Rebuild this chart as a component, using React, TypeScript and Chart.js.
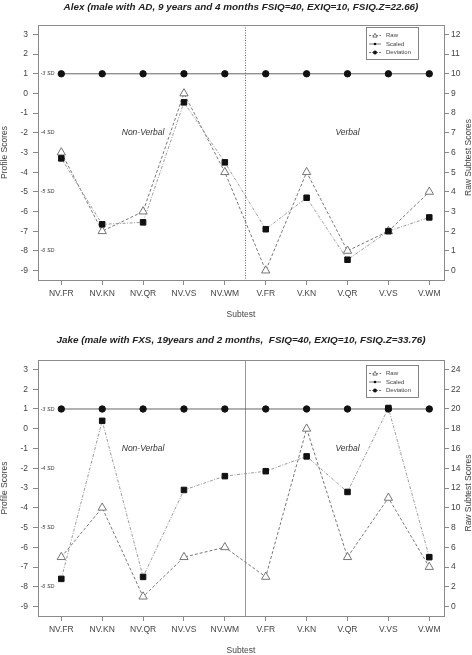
import React, { useEffect, useRef } from "react";
import { Chart, registerables } from "chart.js";
Chart.register(...registerables);

// ---------------- data ----------------
const subtests = ["NV.FR", "NV.KN", "NV.QR", "NV.VS", "NV.WM", "V.FR", "V.KN", "V.QR", "V.VS", "V.WM"];
const profileTicks = [-9, -8, -7, -6, -5, -4, -3, -2, -1, 0, 1, 2, 3];
const sdLevels = [1, -2, -5, -8];
const sdLabels = ["-3 SD", "-4 SD", "-5 SD", "-6 SD"];
const domainLabels = ["Non-Verbal", "Verbal"];
const domainCenters = ["NV.QR", "V.QR"];
const firstVerbal = "V.FR";
const legendLabels = ["Raw", "Scaled", "Deviation"];

const alexTitle = "Alex (male with AD, 9 years and 4 months FSIQ=40, EXIQ=10, FSIQ.Z=22.66)";
const alexRaw = [6, 2, 3, 9, 5, 0, 5, 1, 2, 4];
const alexScaled = [1, 1, 1, 1, 1, 1, 1, 1, 1, 1];
const alexDeviation = [-3.3, -6.65, -6.55, -0.45, -3.5, -6.9, -5.3, -8.45, -7, -6.3];
const alexRawTicks = [0, 1, 2, 3, 4, 5, 6, 7, 8, 9, 10, 11, 12];

const jakeTitle = "Jake (male with FXS, 19years and 2 months,  FSIQ=40, EXIQ=10, FSIQ.Z=33.76)";
const jakeRaw = [5, 10, 1, 5, 6, 3, 18, 5, 11, 4];
const jakeScaled = [1, 1, 1, 1, 1, 1, 1, 1, 1, 1];
const jakeDeviation = [-7.6, 0.4, -7.5, -3.1, -2.4, -2.15, -1.4, -3.2, 1.05, -6.5];
const jakeRawTicks = [0, 2, 4, 6, 8, 10, 12, 14, 16, 18, 20, 22, 24];

// ---------------- styling ----------------
const FONT = '"Liberation Sans", Arial, sans-serif';
const GRAY_AXIS = "#8a8a8a";
const GRAY_TEXT = "#444";

type Panel = {
  title: string;
  raw: number[];
  scaled: number[];
  deviation: number[];
  rawTicks: number[];
  rawMin: number;
  rawMax: number;
  height: number;
  padTop: number;
  xAxisHeight: number;
  titleGap: number;
  dividerDash: number[];
  dividerColor: string;
  domainLevel: number;
  legendTop: number;
};

const toXY = (arr: number[]) => arr.map((v, i) => ({ x: i + 1, y: v }));

function drawLegend(ctx: CanvasRenderingContext2D, left: number, top: number) {
  const w = 52;
  const h = 32;
  ctx.save();
  ctx.fillStyle = "#fff";
  ctx.fillRect(left, top, w, h);
  ctx.strokeStyle = "#666";
  ctx.lineWidth = 0.8;
  ctx.strokeRect(left + 0.5, top + 0.5, w, h);
  const dashes = [[2, 1.5], [], [2, 1, 1, 1]];
  legendLabels.forEach((lab, i) => {
    const yy = top + 8.5 + i * 8.5;
    ctx.strokeStyle = "#555";
    ctx.lineWidth = 0.8;
    ctx.setLineDash(dashes[i]);
    ctx.beginPath();
    ctx.moveTo(left + 3, yy);
    ctx.lineTo(left + 15, yy);
    ctx.stroke();
    ctx.setLineDash([]);
    const cx = left + 9;
    if (i === 0) {
      ctx.fillStyle = "#fff";
      ctx.beginPath();
      ctx.moveTo(cx, yy - 2.2);
      ctx.lineTo(cx + 2.2, yy + 1.6);
      ctx.lineTo(cx - 2.2, yy + 1.6);
      ctx.closePath();
      ctx.fill();
      ctx.stroke();
    } else {
      ctx.fillStyle = "#111";
      ctx.beginPath();
      ctx.arc(cx, yy, i === 1 ? 1.3 : 2, 0, Math.PI * 2);
      ctx.fill();
    }
    ctx.fillStyle = GRAY_TEXT;
    ctx.font = `6px ${FONT}`;
    ctx.textAlign = "left";
    ctx.textBaseline = "middle";
    ctx.fillText(lab, left + 20, yy);
  });
  ctx.restore();
}

function makeOverlay(p: Panel) {
  return {
    id: "overlay",
    beforeDatasetsDraw(chart: any) {
      const { ctx, chartArea: a, scales } = chart;
      const xs = scales.x;
      const ys = scales.y;
      ctx.save();
      // divider between domains
      const dx = xs.getPixelForValue(subtests.indexOf(firstVerbal) + 0.5);
      ctx.strokeStyle = p.dividerColor;
      ctx.lineWidth = 1;
      ctx.setLineDash(p.dividerDash);
      ctx.beginPath();
      ctx.moveTo(Math.round(dx) + 0.5, a.top);
      ctx.lineTo(Math.round(dx) + 0.5, a.bottom);
      ctx.stroke();
      ctx.setLineDash([]);
      // SD labels
      ctx.fillStyle = GRAY_TEXT;
      ctx.font = `italic 5.5px ${FONT}`;
      ctx.textAlign = "left";
      ctx.textBaseline = "middle";
      sdLevels.forEach((lv, i) => ctx.fillText(sdLabels[i], a.left + 2.5, ys.getPixelForValue(lv)));
      // domain labels
      ctx.font = `italic 8.5px ${FONT}`;
      ctx.fillStyle = "#333";
      ctx.textAlign = "center";
      domainLabels.forEach((lab, i) => {
        const xv = subtests.indexOf(domainCenters[i]) + 1;
        ctx.fillText(lab, xs.getPixelForValue(xv), ys.getPixelForValue(p.domainLevel));
      });
      ctx.restore();
    },
    afterDraw(chart: any) {
      const { ctx, chartArea: a } = chart;
      const cx = (a.left + a.right) / 2;
      const cy = (a.top + a.bottom) / 2;
      ctx.save();
      // box
      ctx.strokeStyle = GRAY_AXIS;
      ctx.lineWidth = 1;
      ctx.strokeRect(Math.round(a.left) + 0.5, Math.round(a.top) + 0.5, Math.round(a.right - a.left), Math.round(a.bottom - a.top));
      // title
      ctx.fillStyle = "#222";
      ctx.font = `bold italic 9.9px ${FONT}`;
      ctx.textAlign = "center";
      ctx.textBaseline = "middle";
      ctx.fillText(p.title, cx, a.top - p.titleGap);
      // x title
      ctx.fillStyle = GRAY_TEXT;
      ctx.font = `8.5px ${FONT}`;
      ctx.fillText("Subtest", cx, a.bottom + 35);
      // left title
      ctx.save();
      ctx.translate(5, cy);
      ctx.rotate(-Math.PI / 2);
      ctx.fillText("Profile Scores", 0, 0);
      ctx.restore();
      // right title
      ctx.save();
      ctx.translate(469, cy + 5);
      ctx.rotate(-Math.PI / 2);
      ctx.fillText("Raw Subtest Scores", 0, 0);
      ctx.restore();
      drawLegend(ctx, a.right - 78, a.top + p.legendTop);
      ctx.restore();
    },
  };
}

function PanelChart({ p }: { p: Panel }) {
  const ref = useRef<HTMLCanvasElement | null>(null);
  useEffect(() => {
    if (!ref.current) return;
    const tickFont = { family: FONT, size: 8.5 };
    const chart = new Chart(ref.current, {
      type: "line",
      data: {
        datasets: [
          {
            label: "Deviation",
            data: toXY(p.deviation),
            yAxisID: "y",
            order: 0,
            borderColor: "#9a9a9a",
            borderWidth: 1,
            borderDash: [3, 1.5, 1, 1.5],
            pointStyle: "rect",
            pointRadius: 3.9,
            pointBackgroundColor: "#111",
            pointBorderColor: "#111",
            pointBorderWidth: 1,
            fill: false,
            tension: 0,
          },
          {
            label: "Scaled",
            data: toXY(p.scaled),
            yAxisID: "y",
            order: 1,
            borderColor: "#666",
            borderWidth: 1,
            pointStyle: "circle",
            pointRadius: 3.2,
            pointBackgroundColor: "#111",
            pointBorderColor: "#111",
            fill: false,
            tension: 0,
          },
          {
            label: "Raw",
            data: toXY(p.raw),
            yAxisID: "y2",
            order: 2,
            borderColor: "#777",
            borderWidth: 1,
            borderDash: [3, 2],
            pointStyle: "triangle",
            pointRadius: 4.8,
            pointBackgroundColor: "#fff",
            pointBorderColor: "#666",
            pointBorderWidth: 0.9,
            fill: false,
            tension: 0,
          },
        ],
      },
      options: {
        responsive: false,
        animation: false,
        events: [],
        layout: { padding: { top: p.padTop, left: 0, right: 0, bottom: 0 } },
        plugins: { legend: { display: false }, title: { display: false }, tooltip: { enabled: false } },
        scales: {
          x: {
            type: "linear",
            min: 0.43,
            max: 10.36,
            afterBuildTicks: (s: any) => {
              s.ticks = subtests.map((_, i) => ({ value: i + 1 }));
            },
            afterFit: (s: any) => {
              s.height = p.xAxisHeight;
            },
            grid: { drawOnChartArea: false, drawTicks: true, tickLength: 5, color: GRAY_AXIS },
            border: { display: true, color: GRAY_AXIS },
            ticks: {
              autoSkip: false,
              maxRotation: 0,
              padding: 4,
              color: GRAY_TEXT,
              font: tickFont,
              callback: (v: any) => subtests[Math.round(Number(v)) - 1] ?? "",
            },
          },
          y: {
            type: "linear",
            position: "left",
            min: -9.48,
            max: 3.48,
            afterBuildTicks: (s: any) => {
              s.ticks = profileTicks.map((v) => ({ value: v }));
            },
            afterFit: (s: any) => {
              s.width = 38;
            },
            grid: { drawOnChartArea: false, drawTicks: true, tickLength: 5, color: GRAY_AXIS },
            border: { display: true, color: GRAY_AXIS },
            ticks: { padding: 5, color: GRAY_TEXT, font: tickFont },
          },
          y2: {
            type: "linear",
            position: "right",
            min: p.rawMin,
            max: p.rawMax,
            afterBuildTicks: (s: any) => {
              s.ticks = p.rawTicks.map((v) => ({ value: v }));
            },
            afterFit: (s: any) => {
              s.width = 28;
            },
            grid: { drawOnChartArea: false, drawTicks: true, tickLength: 5, color: GRAY_AXIS },
            border: { display: true, color: GRAY_AXIS },
            ticks: { padding: 2, color: GRAY_TEXT, font: tickFont },
          },
        },
      } as any,
      plugins: [makeOverlay(p) as any],
    });
    return () => chart.destroy();
  }, [p]);
  return <canvas ref={ref} width={472} height={p.height} style={{ display: "block", width: 472, height: p.height }} />;
}

const alexPanel: Panel = {
  title: alexTitle,
  raw: alexRaw,
  scaled: alexScaled,
  deviation: alexDeviation,
  rawTicks: alexRawTicks,
  rawMin: -0.48,
  rawMax: 12.48,
  height: 320,
  padTop: 25,
  xAxisHeight: 40,
  titleGap: 18,
  dividerDash: [1, 1.5],
  dividerColor: "#666",
  domainLevel: -2,
  legendTop: 2,
};

const jakePanel: Panel = {
  title: jakeTitle,
  raw: jakeRaw,
  scaled: jakeScaled,
  deviation: jakeDeviation,
  rawTicks: jakeRawTicks,
  rawMin: -0.96,
  rawMax: 24.96,
  height: 335,
  padTop: 40,
  xAxisHeight: 39,
  titleGap: 20,
  dividerDash: [],
  dividerColor: "#999",
  domainLevel: -1,
  legendTop: 5,
};

export default function App() {
  useEffect(() => {
    document.body.style.margin = "0";
    document.body.style.background = "#fff";
  }, []);
  return (
    <div style={{ width: 472, height: 655, background: "#fff" }}>
      <PanelChart p={alexPanel} />
      <PanelChart p={jakePanel} />
    </div>
  );
}
